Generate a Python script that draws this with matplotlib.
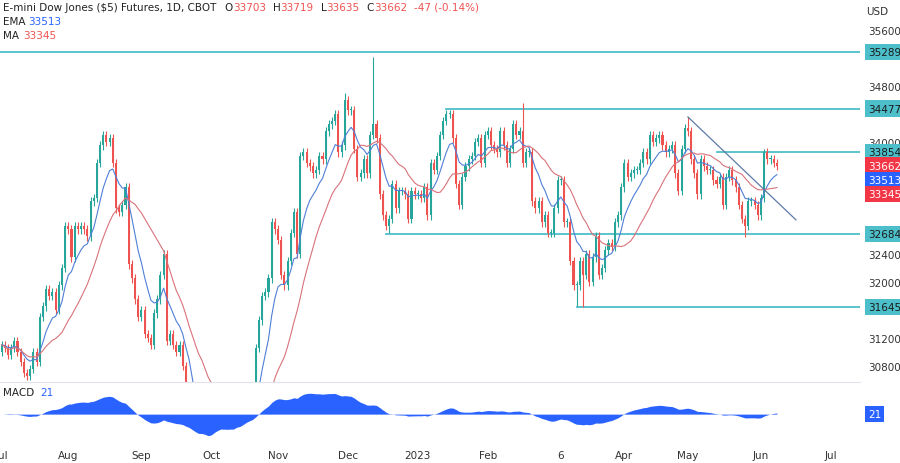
import matplotlib.pyplot as plt
import pandas as pd
import numpy as np

# daily closes (Jul 1 2022 .. Jun 8 2023)
closes = [
    # Jul
    31100, 31050, 30950, 31050, 31150, 31000, 30850, 30700, 30650, 30750, 31000,
    30850, 31500, 31650, 31900, 31800, 31850, 31600, 31950, 32200, 32800,
    # Aug
    32750, 32350, 32800, 32750, 32800, 32750, 32650, 33150, 33200, 33700, 33950,
    34100, 34000, 34050, 33700, 33050, 33000, 33100, 33350, 32250, 32050, 31750, 31500,
    # Sep
    31600, 31250, 31200, 31100, 31550, 31750, 32100, 32400, 31150, 31250, 31100,
    31000, 31100, 30800, 30300, 30200, 29600, 29300, 29200, 29700, 29200, 28800,
    # Oct
    29500, 30300, 30200, 30050, 29400, 29300, 29350, 29250, 30000, 29600, 30150,
    30400, 30300, 30350, 31050, 31450, 31800, 31850, 32050, 32850, 32750,
    # Nov
    32600, 32100, 31950, 32300, 32700, 33000, 32400, 33800, 33850, 33700, 33650,
    33550, 33600, 33800, 33750, 34150, 34250, 34300, 34400, 33850, 33950, 34600,
    # Dec
    34450, 34450, 33900, 33500, 33550, 33750, 33550, 34100, 34250, 34050, 33250,
    32950, 32800, 32900, 33400, 33050, 33300, 33300, 33250, 32900, 33300, 33250,
    # Jan
    33250, 33200, 33350, 32950, 33700, 33600, 33800, 34100, 34300, 34400, 34400,
    34050, 33400, 33100, 33500, 33650, 33750, 33800, 34000, 34050, 33700, 34100,
    # Feb
    34150, 33950, 33900, 33850, 34150, 33950, 33700, 33900, 34250, 34100, 34150,
    33700, 33850, 33850, 33150, 33050, 33150, 32850, 32950, 32700,
    # Mar
    32700, 33050, 33450, 33450, 32850, 32850, 32300, 31950, 31950, 32300, 32100,
    32400, 32000, 32350, 32650, 32100, 32200, 32450, 32550, 32500, 32850, 32950, 33350,
    # Apr
    33700, 33500, 33550, 33600, 33600, 33700, 33850, 33750, 34100, 34000, 34050,
    34100, 33950, 33850, 33900, 33950, 33550, 33300, 33900, 34200,
    # May
    34150, 33750, 33550, 33250, 33750, 33650, 33600, 33600, 33450, 33400, 33500,
    33100, 33500, 33600, 33450, 33350, 33100, 32900, 32800, 33150, 33150, 33100, 32950,
    # Jun
    33200, 33850, 33750, 33750, 33700, 33662,
]
first_open = 31000
wick = 60
high_override = {"2022-11-30": 34700, "2022-12-13": 35214, "2023-02-16": 34550,
                 "2023-05-01": 34357, "2023-06-02": 33900}
low_override = {"2022-12-20": 32700, "2023-03-13": 31660, "2023-03-15": 31645,
                "2023-05-25": 32640}

levels = [35289, 34477, 33854, 32684, 31645]
level_start = [None, "2023-01-13", "2023-05-12", "2022-12-19", "2023-03-13"]
trend_pts = [("2023-05-01", 34357), ("2023-06-16", 32886)]
price_ticks = [35600, 34800, 34000, 32400, 32000, 31200, 30800]
month_ticks = ["2022-07-01", "2022-08-01", "2022-09-01", "2022-10-03", "2022-11-01",
               "2022-12-01", "2023-01-02", "2023-02-01", "2023-03-06", "2023-04-03",
               "2023-05-01", "2023-06-01", "2023-07-03"]
month_labels = ["Jul", "Aug", "Sep", "Oct", "Nov", "Dec", "2023", "Feb", "6", "Apr",
                "May", "Jun", "Jul"]

GREEN, RED, TEAL = "#26a69a", "#ef5350", "#4dbfca"

full = pd.bdate_range("2022-07-01", "2023-07-31")
dates = full[:len(closes)]
pos = lambda d: full.get_loc(pd.Timestamp(d))

c = pd.Series(closes, index=dates, dtype=float)
o = c.shift(1).fillna(first_open)
hi = np.maximum(o, c) + wick
lo = np.minimum(o, c) - wick
for d, v in high_override.items():
    hi[pd.Timestamp(d)] = v
for d, v in low_override.items():
    lo[pd.Timestamp(d)] = v
ema = c.ewm(span=9, adjust=False).mean()
ma = c.rolling(20, min_periods=1).mean()
macd = c.ewm(span=12, adjust=False).mean() - c.ewm(span=26, adjust=False).mean()

fig = plt.figure(figsize=(9, 4.64), dpi=100)
ax = fig.add_axes([0, 0.175, 0.955, 0.825])
axm = fig.add_axes([0, 0.052, 0.955, 0.12], sharex=ax)

x = np.arange(len(c))
cols = [GREEN if cc >= oo else RED for oo, cc in zip(o, c)]
ax.vlines(x, lo, hi, colors=cols, lw=0.8, zorder=2)
ax.bar(x, np.maximum(np.abs(c - o), 15), bottom=np.minimum(o, c), width=0.65,
       color=cols, zorder=3)
ax.plot(x, ema, color="#4f7fd6", lw=0.8, zorder=4)
ax.plot(x, ma, color="#d9727a", lw=0.8, zorder=4)

for lv, st in zip(levels, level_start):
    x0 = -5 if st is None else pos(st)
    ax.plot([x0, 300], [lv, lv], color=TEAL, lw=1.3, zorder=1)
ax.plot([pos(d) for d, _ in trend_pts], [v for _, v in trend_pts],
        color="#5d7ba8", lw=0.9, zorder=4)

ax.set_xlim(-0.5, pos("2023-07-14"))
ax.set_ylim(30571, 36043)
ax.yaxis.tick_right()
ax.set_yticks(price_ticks)
ax.tick_params(axis="y", length=0, labelsize=7.5, labelcolor="#333333", pad=6)
ax.tick_params(axis="x", bottom=False, labelbottom=False)
for s in ax.spines.values():
    s.set_visible(False)

def tag(a, y, text, bg, fg="white", dy=0):
    a.annotate(text, xy=(1, y), xycoords=("axes fraction", "data"), xytext=(6, dy),
               textcoords="offset points", va="center", ha="left", fontsize=7.5,
               color=fg, zorder=10, annotation_clip=False,
               bbox=dict(boxstyle="square,pad=0.3", fc=bg, ec="none"))

for lv in levels:
    tag(ax, lv, str(lv), TEAL, "#1a1a1a")
tag(ax, 33662, "33662", "#f23645")
tag(ax, 33513, "33513", "#2962ff", dy=-3)
tag(ax, 33345, "33345", "#f23645", dy=-4.5)
fig.text(0.975, 0.985, "USD", fontsize=7.5, color="#333333", va="top", ha="center")

# header, pieces chained left to right
hdr = [("E-mini Dow Jones ($5) Futures, 1D, CBOT", "#222222", 0),
       ("O", "#222222", 6), ("33703", RED, 0), ("H", "#222222", 5),
       ("33719", RED, 0), ("L", "#222222", 5), ("33635", RED, 0),
       ("C", "#222222", 5), ("33662", RED, 0), ("-47 (-0.14%)", RED, 5)]
prev = None
for t, col, gap in hdr:
    if prev is None:
        prev = fig.text(3 / 900, 1 - 8 / 464, t, fontsize=7.5, color=col, va="center")
    else:
        prev = ax.annotate(t, xy=(1, 0.5), xycoords=prev, xytext=(gap, 0),
                           textcoords="offset points", fontsize=7.5, color=col,
                           va="center", annotation_clip=False)
fig.text(3 / 900, 1 - 22 / 464, "EMA", fontsize=7.5, color="#222222", va="center")
fig.text(28 / 900, 1 - 22 / 464, "33513", fontsize=7.5, color="#2962ff", va="center")
fig.text(3 / 900, 1 - 36 / 464, "MA", fontsize=7.5, color="#222222", va="center")
fig.text(23 / 900, 1 - 36 / 464, "33345", fontsize=7.5, color=RED, va="center")

# MACD panel
axm.fill_between(x, macd, 0, color="#2962ff", lw=0)
lim = np.abs(macd).max() * 1.15
axm.set_ylim(-lim, lim * 1.25)
axm.set_yticks([])
for s in axm.spines.values():
    s.set_visible(False)
fig.add_artist(plt.Line2D([0, 0.955], [0.174, 0.174], color="#e0e3eb", lw=0.8))
axm.text(0.004, 0.93, "MACD", transform=axm.transAxes, fontsize=7.5,
         color="#222222", va="top")
axm.text(0.047, 0.93, "21", transform=axm.transAxes, fontsize=7.5,
         color="#2962ff", va="top")
tag(axm, 0, "21", "#2962ff")
axm.set_xticks([pos(d) for d in month_ticks])
axm.set_xticklabels(month_labels)
axm.tick_params(axis="x", length=0, labelsize=7.5, labelcolor="#333333", pad=8)
axm.set_xlim(-0.5, pos("2023-07-14"))

fig.savefig("out.png", dpi=100, facecolor="white")
